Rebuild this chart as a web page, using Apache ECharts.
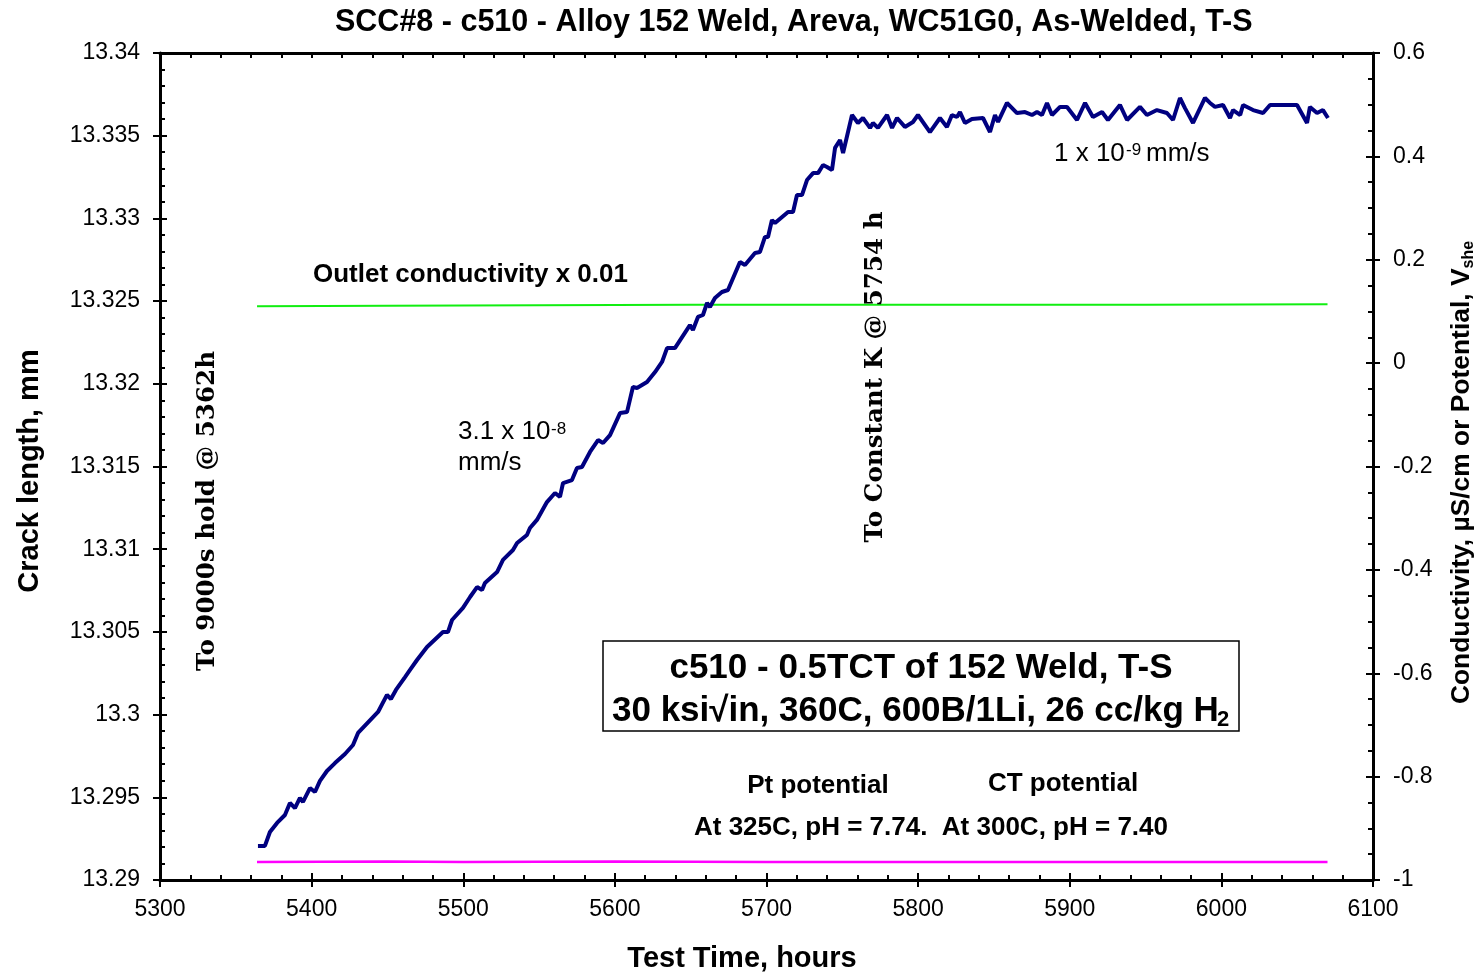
<!DOCTYPE html>
<html>
<head>
<meta charset="utf-8">
<script src="https://cdn.jsdelivr.net/npm/echarts@6/dist/echarts.min.js"></script>
<style>html,body{margin:0;padding:0;background:#fff}#c{width:1484px;height:972px}</style>
</head>
<body>
<div id="c"></div>
<script>
// ---- data ----
const crackTime = [5364.6,5369.2,5372.5,5377.2,5382.4,5385.7,5389.0,5392.3,5394.3,5398.9,
5402.2,5405.5,5410.1,5415.4,5422.0,5427.3,5430.6,5443.8,5449.7,5452.3,
5455.6,5461.6,5464.9,5469.5,5476.1,5486.6,5489.9,5492.6,5499.8,5504.5,
5509.1,5512.4,5514.3,5522.3,5526.2,5532.8,5535.5,5542.0,5544.0,5548.6,
5555.2,5560.5,5563.8,5565.8,5571.7,5575.0,5578.3,5583.6,5588.9,5592.2,
5596.8,5603.4,5608.0,5611.9,5614.6,5621.2,5626.5,5631.1,5634.4,5639.6,
5649.5,5651.5,5654.8,5658.1,5660.8,5662.7,5666.0,5670.6,5674.6,5682.5,
5685.8,5692.4,5695.7,5699.0,5701.0,5703.6,5705.6,5714.2,5717.5,5720.1,
5723.4,5726.7,5730.7,5734.0,5737.3,5739.9,5743.2,5745.2,5748.5,5750.5,
5756.4,5760.3,5763.6,5768.3,5770.2,5773.5,5779.5,5782.8,5786.1,5791.3,
5796.6,5799.9,5807.8,5814.4,5819.0,5822.3,5825.6,5827.6,5830.9,5835.5,
5842.8,5847.4,5850.7,5852.7,5858.6,5865.2,5870.5,5875.1,5878.4,5881.7,
5885.0,5888.3,5893.6,5898.2,5904.8,5910.1,5915.3,5921.3,5925.2,5933.1,
5937.8,5946.3,5950.9,5957.5,5964.1,5968.1,5972.7,5976.0,5981.3,5989.2,
5992.5,5995.8,6001.1,6005.7,6007.7,6012.4,6014.3,6020.9,6027.5,6032.1,
6049.9,6056.5,6058.4,6063.1,6067.0,6070.3];
const crackLength = [13.29206,13.29206,13.29290,13.29345,13.29393,13.29466,13.29435,13.29496,13.29472,13.29556,
13.29532,13.29599,13.29659,13.29707,13.29762,13.29816,13.29889,13.30016,13.30119,13.30094,
13.30149,13.30227,13.30270,13.30330,13.30409,13.30499,13.30499,13.30572,13.30645,13.30711,
13.30771,13.30753,13.30796,13.30862,13.30935,13.30995,13.31037,13.31086,13.31128,13.31177,
13.31285,13.31340,13.31316,13.31400,13.31418,13.31491,13.31497,13.31588,13.31660,13.31642,
13.31690,13.31823,13.31829,13.31981,13.31975,13.32011,13.32071,13.32132,13.32216,13.32216,
13.32355,13.32325,13.32404,13.32416,13.32489,13.32464,13.32519,13.32555,13.32567,13.32736,
13.32718,13.32791,13.32797,13.32888,13.32888,13.32990,13.32972,13.33039,13.33039,13.33141,
13.33141,13.33232,13.33274,13.33274,13.33323,13.33311,13.33293,13.33426,13.33474,13.33395,
13.33625,13.33577,13.33607,13.33547,13.33577,13.33547,13.33625,13.33547,13.33607,13.33553,
13.33583,13.33625,13.33522,13.33607,13.33553,13.33625,13.33613,13.33643,13.33577,13.33601,
13.33607,13.33522,13.33625,13.33583,13.33698,13.33637,13.33643,13.33625,13.33643,13.33625,
13.33698,13.33625,13.33674,13.33674,13.33595,13.33698,13.33613,13.33643,13.33595,13.33686,
13.33595,13.33674,13.33625,13.33655,13.33637,13.33595,13.33728,13.33667,13.33577,13.33728,
13.33698,13.33674,13.33686,13.33607,13.33655,13.33625,13.33686,13.33655,13.33637,13.33686,
13.33686,13.33577,13.33674,13.33637,13.33655,13.33607];

const condTime  = [5364, 5450, 5550, 5650, 5750, 5850, 5950, 6070];
const condValue = [0.110, 0.111, 0.112, 0.113, 0.113, 0.113, 0.113, 0.114];

const potTime  = [5364, 5450, 5500, 5600, 5700, 5800, 5900, 6000, 6070];
const potValue = [-0.965, -0.964, -0.965, -0.964, -0.965, -0.965, -0.965, -0.965, -0.965];

const xRange = [5300, 6100], xStep = 100;
const yLeftRange = [13.29, 13.34], yLeftStep = 0.005;
const yRightRange = [-1, 0.6], yRightStep = 0.2;

const zip = (a, b) => a.map((v, i) => [v, b[i]]);

// ---- chart ----
const SANS = '"Liberation Sans", Arial, sans-serif';
const SERIF = '"DejaVu Serif", serif';
const chart = echarts.init(document.getElementById('c'), null, {renderer: 'canvas'});

const lineBlack = {show: true, onZero: false, lineStyle: {color: '#000', width: 3}};
const noLine = {show: false, onZero: false};
const tickIn = (len) => ({show: true, inside: true, length: len, lineStyle: {color: '#000', width: 2}});
const tickOut = (len) => ({show: true, inside: false, length: len, lineStyle: {color: '#000', width: 2}});
const minor = (n) => ({show: true, splitNumber: n, length: 5, lineStyle: {color: '#000', width: 2}});
const plain = (v) => String(+v.toFixed(4));

function txt(x, y, text, size, opts) {
  opts = opts || {};
  return {
    type: 'text', x: x, y: y, rotation: opts.rotation || 0, z: 100,
    style: {
      text: text, fill: '#000',
      fontSize: size, fontFamily: opts.family || SANS, fontWeight: opts.weight || 'normal',
      align: opts.align || 'left', verticalAlign: 'middle',
      textAlign: opts.align || 'left', textVerticalAlign: 'middle'
    }
  };
}

const option = {
  animation: false,
  backgroundColor: '#fff',
  title: {
    text: 'SCC#8 - c510 - Alloy 152 Weld, Areva, WC51G0, As-Welded, T-S',
    left: 335, top: 0, padding: [8, 0, 0, 0],
    textStyle: {fontFamily: SANS, fontWeight: 'bold', fontSize: 30.5, color: '#000', lineHeight: 30}
  },
  grid: {left: 160, right: 111, top: 53, bottom: 92, containLabel: false, outerBoundsMode: 'none'},
  xAxis: [
    {type: 'value', position: 'bottom', min: xRange[0], max: xRange[1], interval: xStep,
     axisLine: lineBlack, axisTick: tickIn(7), minorTick: minor(5), splitLine: {show: false},
     axisLabel: {fontFamily: SANS, fontSize: 23, color: '#000', margin: 18, formatter: plain},
     name: 'Test Time, hours', nameLocation: 'middle', nameGap: 64,
     nameTextStyle: {fontFamily: SANS, fontWeight: 'bold', fontSize: 29, color: '#000', padding: [0, 49, 0, 0]}},
    {type: 'value', position: 'bottom', min: xRange[0], max: xRange[1], interval: xStep,
     axisLine: noLine, axisTick: tickOut(7), axisLabel: {show: false}, splitLine: {show: false}},
    {type: 'value', position: 'top', min: xRange[0], max: xRange[1], interval: xStep,
     axisLine: lineBlack, axisTick: tickIn(5), minorTick: minor(5), axisLabel: {show: false}, splitLine: {show: false}}
  ],
  yAxis: [
    {type: 'value', position: 'left', min: yLeftRange[0], max: yLeftRange[1], interval: yLeftStep,
     axisLine: lineBlack, axisTick: tickIn(7), minorTick: minor(5), splitLine: {show: false},
     axisLabel: {fontFamily: SANS, fontSize: 23, color: '#000', margin: 20, formatter: plain},
     name: 'Crack length, mm', nameLocation: 'middle', nameRotate: 90, nameGap: 116,
     nameTextStyle: {fontFamily: SANS, fontWeight: 'bold', fontSize: 29, color: '#000', padding: [0, 9, 0, 0]}},
    {type: 'value', position: 'left', min: yLeftRange[0], max: yLeftRange[1], interval: yLeftStep,
     axisLine: noLine, axisTick: tickOut(7), axisLabel: {show: false}, splitLine: {show: false}},
    {type: 'value', position: 'right', min: yRightRange[0], max: yRightRange[1], interval: yRightStep,
     axisLine: lineBlack, axisTick: tickIn(7), minorTick: minor(4), splitLine: {show: false},
     axisLabel: {fontFamily: SANS, fontSize: 23, color: '#000', margin: 20, formatter: plain},
     name: '{a|Conductivity, µS/cm or Potential, V}{b|she}', nameLocation: 'middle', nameRotate: 90, nameGap: 74,
     nameTextStyle: {color: '#000', padding: [0, 12, 0, 0], rich: {
       a: {fontFamily: SANS, fontWeight: 'bold', fontSize: 26.4, color: '#000'},
       b: {fontFamily: SANS, fontWeight: 'bold', fontSize: 16, color: '#000', padding: [14, 0, 0, 0]}}}},
    {type: 'value', position: 'right', min: yRightRange[0], max: yRightRange[1], interval: yRightStep,
     axisLine: noLine, axisTick: tickOut(7), axisLabel: {show: false}, splitLine: {show: false}}
  ],
  series: [
    {name: 'Outlet conductivity x 0.01', type: 'line', xAxisIndex: 0, yAxisIndex: 2,
     data: zip(condTime, condValue), showSymbol: false, symbol: 'none',
     lineStyle: {color: '#11ee11', width: 2}},
    {name: 'Pt potential', type: 'line', xAxisIndex: 0, yAxisIndex: 2,
     data: zip(potTime, potValue), showSymbol: false, symbol: 'none',
     lineStyle: {color: '#ff00ff', width: 2.5}},
    {name: 'Crack length', type: 'line', xAxisIndex: 0, yAxisIndex: 0,
     data: zip(crackTime, crackLength), showSymbol: false, symbol: 'none',
     lineStyle: {color: '#000080', width: 4}, z: 5}
  ],
  graphic: [
    txt(313, 275, 'Outlet conductivity x 0.01', 26, {weight: 'bold'}),
    txt(458, 432, '3.1 x 10', 26),
    txt(551, 429, '-8', 17),
    txt(458, 463, 'mm/s', 26),
    txt(1054, 154, '1 x 10', 26),
    txt(1126, 150, '-9', 17),
    txt(1146, 154, 'mm/s', 26),
    txt(208, 511, 'To 9000s hold @ 5362h', 24.6, {weight: 'bold', family: SERIF, rotation: Math.PI / 2, align: 'center'}),
    txt(876, 377, 'To Constant K @ 5754 h', 24.6, {weight: 'bold', family: SERIF, rotation: Math.PI / 2, align: 'center'}),
    {type: 'rect', z: 90, shape: {x: 603, y: 641, width: 636, height: 90},
     style: {fill: '#fff', stroke: '#000', lineWidth: 1.5}},
    txt(921, 668, 'c510 - 0.5TCT of 152 Weld, T-S', 35, {weight: 'bold', align: 'center'}),
    txt(612, 711, '30 ksi\u221Ain, 360C, 600B/1Li, 26 cc/kg H', 35, {weight: 'bold'}),
    txt(1217, 720, '2', 22, {weight: 'bold'}),
    txt(818, 786, 'Pt potential', 26, {weight: 'bold', align: 'center'}),
    txt(1063, 784, 'CT potential', 26, {weight: 'bold', align: 'center'}),
    txt(694, 828, 'At 325C, pH = 7.74.  At 300C, pH = 7.40', 26, {weight: 'bold'})
  ]
};
chart.setOption(option);
</script>
</body>
</html>
